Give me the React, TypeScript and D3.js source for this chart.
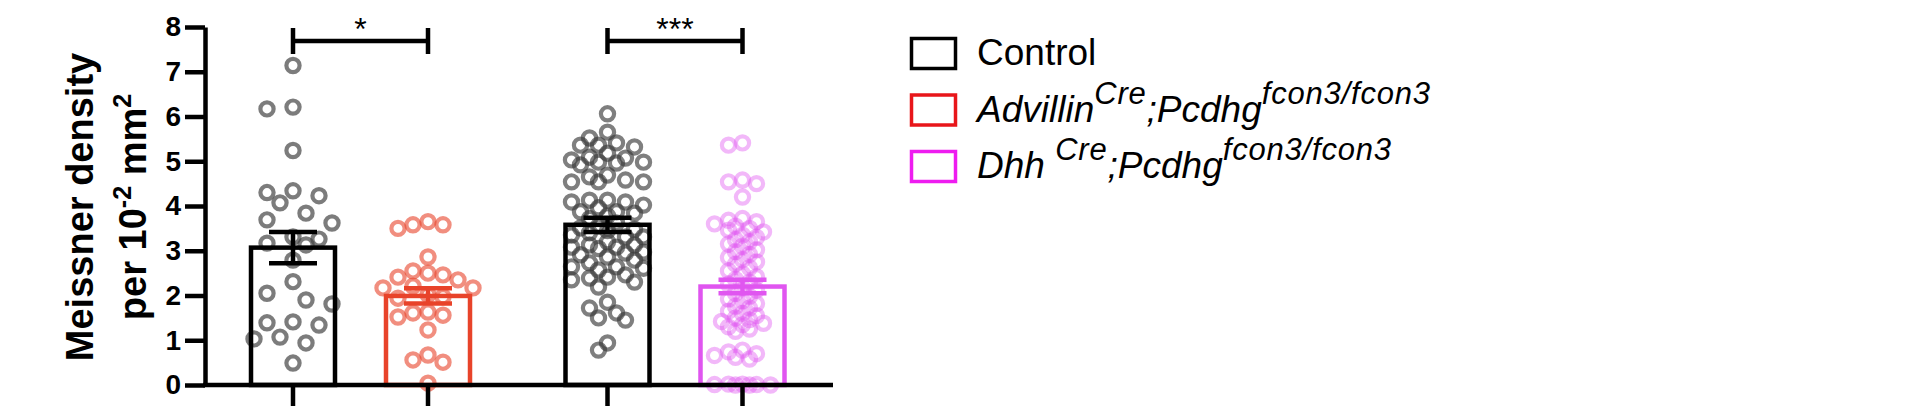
import { useRef, useEffect } from 'react';
import * as d3 from 'd3';

// group means / SEM
const pairs = ['pairA', 'pairB'];
const genotypes = ['control', 'mutant'];
const groupKeys = ['ctrlA', 'advillin', 'ctrlB', 'dhh'];
const groupPair = ['pairA', 'pairA', 'pairB', 'pairB'];
const groupGeno = ['control', 'mutant', 'control', 'mutant'];
const means = [3.07, 1.99, 3.58, 2.2];
const sems = [0.35, 0.17, 0.16, 0.15];
const colors = ['#000000', '#e8432a', '#000000', '#e055f0'];
const dotColors = ['#444444', '#e8432a', '#3a3a3a', '#e055f0'];
const dotOpacity = [0.7, 0.6, 0.65, 0.42];

// individual points
const ctrlAValues = [
    7.14, 6.17, 6.21, 5.24, 4.23, 4.30, 4.34, 4.07, 3.84, 3.62, 3.69, 3.26, 3.31, 3.13,
    3.17, 2.79, 2.31, 2.05, 1.90, 1.81, 1.39, 1.34, 1.41, 1.03, 0.94, 1.07, 0.49,
];
const advillinValues = [
    3.65, 3.58, 3.58, 3.50, 2.86, 2.50, 2.55, 2.46, 2.35, 2.41, 2.17, 2.17, 2.21, 1.94,
    1.97, 2.02, 1.52, 1.61, 1.63, 1.56, 1.23, 0.51, 0.56, 0.67, 0.04,
];
const ctrlBValues = [
    6.06,
    5.65, 5.52, 5.41, 5.36, 5.36, 5.32,
    5.18, 5.09, 5.07, 5.03, 4.98, 4.98, 4.96, 4.92,
    4.69, 4.65, 4.58, 4.54, 4.54, 4.54,
    4.13, 4.13, 4.09, 4.09, 4.02,
    3.96, 3.87, 3.87, 3.84, 3.78, 3.72,
    3.62, 3.55, 3.51, 3.48, 3.45,
    3.40, 3.35, 3.31, 3.31,
    3.20, 3.13, 3.13, 3.08, 3.08, 3.05,
    2.97, 2.95, 2.91, 2.86, 2.79,
    2.73, 2.64, 2.64, 2.61, 2.57,
    2.46, 2.41, 2.39, 2.35, 2.30, 2.19,
    1.85, 1.72, 1.61, 1.50, 1.45,
    0.94, 0.78,
];
const dhhValues = [
    5.41, 5.36,
    4.58, 4.54, 4.50, 4.20,
    3.72, 3.68, 3.65, 3.60, 3.55, 3.50, 3.46, 3.42,
    3.35, 3.30, 3.25, 3.20, 3.15, 3.10,
    3.02, 2.98, 2.92, 2.85, 2.80, 2.75, 2.70,
    2.62, 2.55, 2.48, 2.42, 2.36,
    2.30, 2.25, 2.18, 2.12, 2.05,
    1.98, 1.92, 1.88, 1.82, 1.76, 1.72,
    1.65, 1.60, 1.55, 1.50, 1.46, 1.42,
    1.38, 1.35, 1.30, 1.25, 1.20,
    0.78, 0.74, 0.70, 0.66, 0.62, 0.58,
    0.02, 0.02, 0.01, 0.01, 0.0, 0.0, 0.0,
];
const groupValues = [ctrlAValues, advillinValues, ctrlBValues, dhhValues];

const yTicks = [0, 1, 2, 3, 4, 5, 6, 7, 8];
const comparisons = [
    { from: 'ctrlA', to: 'advillin', label: '*' },
    { from: 'ctrlB', to: 'dhh', label: '***' },
];

const legendColors = ['#000000', '#e8161a', '#ee1cf0'];
const legendLabels: [string, boolean][][] = [
    [['Control', false]],
    [['Advillin', false], ['Cre', true], [';Pcdhg', false], ['fcon3/fcon3', true]],
    [['Dhh ', false], ['Cre', true], [';Pcdhg', false], ['fcon3/fcon3', true]],
];

const FONT = '"Liberation Sans", Arial, Helvetica, sans-serif';

// simple Prism-like swarm: place each point at the nearest free slot
function swarm(vals: number[], yPos: (v: number) => number, step: number, minDist: number, maxK: number) {
    const order = vals.map((v, i) => ({ v, i })).sort((a, b) => b.v - a.v);
    const placed: { x: number; y: number }[] = [];
    const out: number[] = new Array(vals.length).fill(0);
    order.forEach(p => {
        const py = yPos(p.v);
        let best = 0;
        let bestScore = -Infinity;
        let found = false;
        for (let k = 0; k <= maxK && !found; k++) {
            const cands = k === 0 ? [0] : [-k * step, k * step];
            for (const dx of cands) {
                let dmin = Infinity;
                placed.forEach(q => {
                    dmin = Math.min(dmin, Math.hypot(dx - q.x, py - q.y));
                });
                if (dmin >= minDist) {
                    best = dx;
                    found = true;
                    break;
                }
                if (dmin > bestScore) {
                    bestScore = dmin;
                    best = dx;
                }
            }
        }
        placed.push({ x: best, y: py });
        out[p.i] = best;
    });
    return out;
}

export default function App() {
    const svgRef = useRef<SVGSVGElement>(null);

    useEffect(() => {
        if (!svgRef.current) return;
        const width = 1914;
        const height = 410;

        d3.select(svgRef.current).selectAll('*').remove();
        const svg = d3.select(svgRef.current)
            .attr('width', width)
            .attr('height', height)
            .style('font-family', FONT);

        const y = d3.scaleLinear().domain([0, 8]).range([385, 27]);
        const outer = d3.scalePoint<string>().domain(pairs).range([360.5, 675]);
        const inner = d3.scalePoint<string>().domain(genotypes).range([-67.5, 67.5]);
        const cx = (i: number) => (outer(groupPair[i]) || 0) + (inner(groupGeno[i]) || 0);
        const barW = 84;

        // Dots
        const swarmParams = [
            { step: 13, minDist: 20, maxK: 3 },
            { step: 15, minDist: 15, maxK: 3 },
            { step: 9, minDist: 11, maxK: 4 },
            { step: 7, minDist: 8, maxK: 4 },
        ];
        groupValues.forEach((vals, gi) => {
            const p = swarmParams[gi];
            const offs = swarm(vals, y, p.step, p.minDist, p.maxK);
            svg.append('g')
                .selectAll('circle')
                .data(vals)
                .enter()
                .append('circle')
                .attr('cx', (d, i) => cx(gi) + offs[i])
                .attr('cy', d => y(d))
                .attr('r', 6.6)
                .attr('fill', 'none')
                .attr('stroke', dotColors[gi])
                .attr('stroke-opacity', dotOpacity[gi])
                .attr('stroke-width', 4.2);
        });

        // Bars
        svg.append('g')
            .selectAll('rect')
            .data(means)
            .enter()
            .append('rect')
            .attr('x', (d, i) => cx(i) - barW / 2)
            .attr('y', d => y(d))
            .attr('width', barW)
            .attr('height', d => y(0) - y(d))
            .attr('fill', 'none')
            .attr('stroke', (d, i) => colors[i])
            .attr('stroke-width', 4.5);

        // Error bars
        const eb = svg.append('g');
        means.forEach((m, i) => {
            const x0 = cx(i);
            eb.append('line')
                .attr('x1', x0).attr('x2', x0)
                .attr('y1', y(m - sems[i])).attr('y2', y(m + sems[i]))
                .attr('stroke', colors[i]).attr('stroke-width', 4.5);
            [m - sems[i], m + sems[i]].forEach(v => {
                eb.append('line')
                    .attr('x1', x0 - 24).attr('x2', x0 + 24)
                    .attr('y1', y(v)).attr('y2', y(v))
                    .attr('stroke', colors[i]).attr('stroke-width', 4.5);
            });
        });

        // Y axis
        const yAxis = svg.append('g')
            .attr('transform', 'translate(205,0)')
            .call(d3.axisLeft(y).tickValues(yTicks).tickSize(20).tickSizeOuter(0).tickPadding(4));
        yAxis.selectAll('.domain, .tick line')
            .attr('stroke', '#000')
            .attr('stroke-width', 4.5);
        yAxis.selectAll('text')
            .attr('fill', '#000')
            .style('font-family', FONT)
            .style('font-size', '28px')
            .style('font-weight', 'bold');

        // X axis line with ticks at group centres
        svg.append('line')
            .attr('x1', 203).attr('x2', 833)
            .attr('y1', y(0)).attr('y2', y(0))
            .attr('stroke', '#000').attr('stroke-width', 4.5);
        svg.append('g')
            .selectAll('line')
            .data(groupKeys)
            .enter()
            .append('line')
            .attr('x1', (d, i) => cx(i)).attr('x2', (d, i) => cx(i))
            .attr('y1', y(0)).attr('y2', y(0) + 21)
            .attr('stroke', '#000').attr('stroke-width', 4.5);

        // Y label
        const yl = svg.append('g').attr('transform', 'translate(0,207) rotate(-90)');
        yl.append('text')
            .attr('x', 0).attr('y', 93)
            .attr('text-anchor', 'middle')
            .style('font-size', '38px')
            .style('font-weight', 'bold')
            .text('Meissner density');
        const l2 = yl.append('text')
            .attr('x', 0).attr('y', 146)
            .attr('text-anchor', 'middle')
            .style('font-size', '38px')
            .style('font-weight', 'bold');
        l2.append('tspan').text('per 10');
        l2.append('tspan').attr('dy', -15).style('font-size', '25px').text('-2');
        l2.append('tspan').attr('dy', 15).text(' mm');
        l2.append('tspan').attr('dy', -15).style('font-size', '25px').text('2');

        // Significance brackets
        comparisons.forEach(c => {
            const x1 = cx(groupKeys.indexOf(c.from));
            const x2 = cx(groupKeys.indexOf(c.to));
            const g = svg.append('g').attr('stroke', '#000').attr('stroke-width', 4.5);
            g.append('line').attr('x1', x1).attr('x2', x2).attr('y1', 41).attr('y2', 41);
            g.append('line').attr('x1', x1).attr('x2', x1).attr('y1', 28).attr('y2', 54);
            g.append('line').attr('x1', x2).attr('x2', x2).attr('y1', 28).attr('y2', 54);
            svg.append('text')
                .attr('x', (x1 + x2) / 2)
                .attr('y', 40)
                .attr('text-anchor', 'middle')
                .style('font-size', '32px')
                .text(c.label);
        });

        // Legend
        const legend = svg.append('g').attr('transform', 'translate(910,37)');
        legendLabels.forEach((segs, i) => {
            const row = legend.append('g').attr('transform', `translate(0,${i * 56.5})`);
            row.append('rect')
                .attr('x', 1.5).attr('y', 1.5)
                .attr('width', 44).attr('height', 30)
                .attr('fill', 'none')
                .attr('stroke', legendColors[i])
                .attr('stroke-width', 3.5);
            const t = row.append('text')
                .attr('x', 67).attr('y', 28)
                .style('font-size', '37px')
                .style('font-style', i === 0 ? 'normal' : 'italic');
            let raised = false;
            segs.forEach(([s, sup]) => {
                const ts = t.append('tspan').text(s);
                if (sup && !raised) { ts.attr('dy', -18); raised = true; }
                else if (!sup && raised) { ts.attr('dy', 18); raised = false; }
                ts.style('font-size', sup ? '31px' : '37px');
                if (sup) ts.style('letter-spacing', '0.8px');
            });
        });
    }, []);

    return (
        <div style={{ position: 'absolute', left: 0, top: 0 }}>
            <svg ref={svgRef} style={{ display: 'block' }}></svg>
        </div>
    );
}
